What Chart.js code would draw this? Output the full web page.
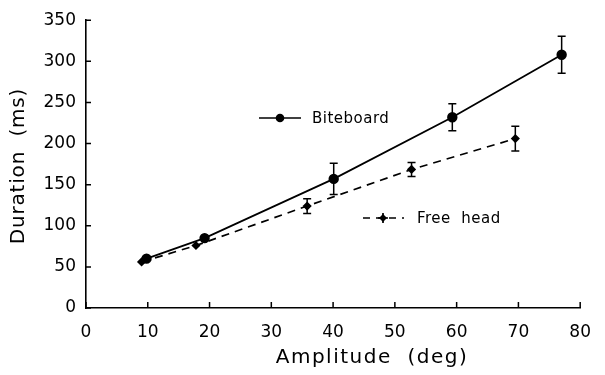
<!DOCTYPE html>
<html>
<head>
<meta charset="utf-8">
<script src="https://cdn.jsdelivr.net/npm/chart.js@4/dist/chart.umd.min.js"></script>
<style>
html,body{margin:0;padding:0;background:#fff;}
#c{display:block;}
</style>
</head>
<body>
<canvas id="c" width="605" height="375"></canvas>
<script>
// ---- data ----
const seriesNames = ["Biteboard", "Free head"];
const biteAmp = [9.8, 19.2, 40.1, 59.3, 77.0];
const biteDur = [60, 85, 157, 232, 308];
const biteErr = [0, 0, 19, 16.5, 22.5];
const freeAmp = [9.0, 17.8, 35.8, 52.7, 69.5];
const freeDur = [56, 76, 124, 168.5, 206];
const freeErr = [0, 0, 9, 8.5, 15];
const xTicks = [0, 10, 20, 30, 40, 50, 60, 70, 80];
const yTicks = [0, 50, 100, 150, 200, 250, 300, 350];
const xTitle = "Amplitude  (deg)";
const yTitle = "Duration  (ms)";

const FONT = "'DejaVu Sans', sans-serif";

const toPts = (xs, ys) => xs.map((x, i) => ({x: x, y: ys[i]}));

const errorBars = {
  id: 'errorBars',
  afterDatasetsDraw(chart) {
    const ctx = chart.ctx, ys = chart.scales.y, xs = chart.scales.x;
    chart.data.datasets.forEach((ds) => {
      if (!ds.err) return;
      ds.data.forEach((p, i) => {
        const e = ds.err[i];
        if (!e) return;
        const px = xs.getPixelForValue(p.x);
        const top = ys.getPixelForValue(p.y + e);
        const bot = ys.getPixelForValue(p.y - e);
        ctx.save();
        ctx.strokeStyle = '#000';
        ctx.lineWidth = 1.5;
        ctx.beginPath();
        ctx.moveTo(px, top); ctx.lineTo(px, bot);
        ctx.moveTo(px - 4, top); ctx.lineTo(px + 4, top);
        ctx.moveTo(px - 4, bot); ctx.lineTo(px + 4, bot);
        ctx.stroke();
        ctx.restore();
      });
    });
  }
};

const decorations = {
  id: 'decorations',
  afterDraw(chart) {
    const ctx = chart.ctx, xs = chart.scales.x, ys = chart.scales.y;
    const a = chart.chartArea;
    ctx.save();
    ctx.strokeStyle = '#000';
    ctx.lineWidth = 1.5;
    // inward tick marks
    ctx.beginPath();
    xTicks.forEach(v => {
      const px = xs.getPixelForValue(v);
      ctx.moveTo(px, a.bottom); ctx.lineTo(px, a.bottom - 6);
    });
    yTicks.forEach(v => {
      const py = ys.getPixelForValue(v);
      ctx.moveTo(a.left, py); ctx.lineTo(a.left + 5, py);
    });
    ctx.stroke();

    // axis titles
    ctx.fillStyle = '#000';
    ctx.font = "20px " + FONT;
    ctx.textAlign = 'center';
    ctx.textBaseline = 'middle';
    ctx.letterSpacing = '1.5px';
    ctx.fillText(xTitle, 372, 358);
    ctx.letterSpacing = '0.8px';
    ctx.save();
    ctx.translate(19, 166);
    ctx.rotate(-Math.PI / 2);
    ctx.fillText(yTitle, 0, 0);
    ctx.restore();

    // legend entries
    ctx.font = "15px " + FONT;
    ctx.letterSpacing = '0.5px';
    ctx.textAlign = 'left';
    // Biteboard
    ctx.lineWidth = 1.7;
    ctx.setLineDash([]);
    ctx.beginPath();
    ctx.moveTo(259, 118); ctx.lineTo(301, 118);
    ctx.stroke();
    ctx.beginPath();
    ctx.arc(280, 118, 4.3, 0, Math.PI * 2);
    ctx.fill();
    ctx.fillText(seriesNames[0], 312, 119);
    // Free head
    ctx.setLineDash([7, 6]);
    ctx.beginPath();
    ctx.moveTo(363, 218); ctx.lineTo(404, 218);
    ctx.stroke();
    ctx.setLineDash([]);
    ctx.beginPath();
    ctx.moveTo(383, 214); ctx.lineTo(387, 218); ctx.lineTo(383, 222); ctx.lineTo(379, 218); ctx.closePath();
    ctx.fill();
    ctx.beginPath();
    ctx.moveTo(383, 213); ctx.lineTo(383, 223);
    ctx.moveTo(378, 218); ctx.lineTo(388, 218);
    ctx.stroke();
    ctx.fillText("Free  head", 417, 219);
    ctx.restore();
  }
};

new Chart(document.getElementById('c'), {
  type: 'scatter',
  data: {
    datasets: [
      {
        label: seriesNames[0],
        data: toPts(biteAmp, biteDur),
        err: biteErr,
        showLine: true,
        borderColor: '#000',
        backgroundColor: '#000',
        borderWidth: 1.8,
        pointStyle: 'circle',
        pointRadius: 4.3,
        pointHoverRadius: 4.3
      },
      {
        label: seriesNames[1],
        data: toPts(freeAmp, freeDur),
        err: freeErr,
        showLine: true,
        borderColor: '#000',
        backgroundColor: '#000',
        borderWidth: 1.7,
        borderDash: [8, 6],
        pointStyle: 'rectRot',
        pointRadius: 3.4,
        pointHoverRadius: 3.4
      }
    ]
  },
  options: {
    responsive: false,
    animation: false,
    events: [],
    layout: { padding: { top: 17, right: 13, left: 0, bottom: 0 } },
    plugins: {
      legend: { display: false },
      tooltip: { enabled: false }
    },
    scales: {
      x: {
        type: 'linear',
        min: 0, max: 80,
        afterBuildTicks: (s) => { s.ticks = xTicks.map(v => ({value: v})); },
        afterFit: (s) => { s.height = 67; },
        grid: { display: false, drawTicks: false },
        border: { display: true, color: '#000', width: 1.6 },
        ticks: { color: '#000', padding: 14, font: { family: FONT, size: 17 }, maxRotation: 0 }
      },
      y: {
        type: 'linear',
        min: 0, max: 350,
        afterBuildTicks: (s) => { s.ticks = yTicks.map(v => ({value: v})); },
        afterFit: (s) => { s.width = 86; },
        grid: { display: false, drawTicks: false },
        border: { display: true, color: '#000', width: 1.6 },
        ticks: { color: '#000', padding: 10, font: { family: FONT, size: 17 } }
      }
    }
  },
  plugins: [errorBars, decorations]
});
</script>
</body>
</html>
